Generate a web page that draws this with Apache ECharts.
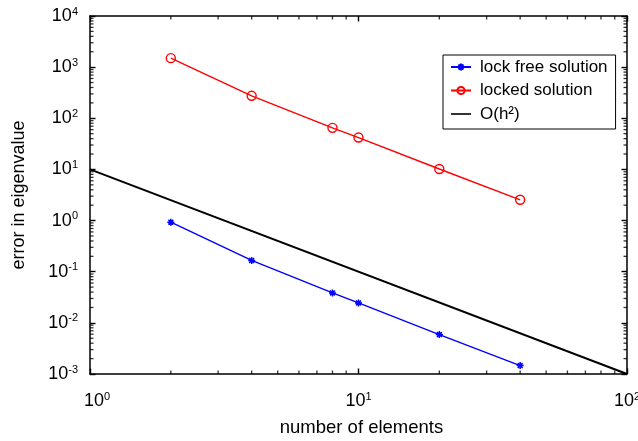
<!DOCTYPE html>
<html>
<head>
<meta charset="utf-8">
<script src="https://cdn.jsdelivr.net/npm/echarts@6/dist/echarts.min.js"></script>
<style>
html,body{margin:0;padding:0;background:#fff;}
#chart{width:638px;height:441px;}
</style>
</head>
<body>
<div id="chart"></div>
<script>
// ---- data ----
var elements = [2, 4, 8, 10, 20, 40];
var lockFree = [0.93, 0.166, 0.0385, 0.0245, 0.0059, 0.00146];
var locked = [1500, 275, 65, 42, 10.2, 2.55];
var refX = [1, 100];
var refY = [10, 0.001];
var seriesNames = ['lock free solution', 'locked solution', 'O(h\u00b2)'];
var xTitle = 'number of elements';
var yTitle = 'error in eigenvalue';
var xRange = [1, 100];
var yRange = [0.001, 10000];
var xMinorTicks = [2,3,4,5,6,7,8,9,20,30,40,50,60,70,80,90];
var yMinorTicks = [];
[0.001,0.01,0.1,1,10,100,1000].forEach(function(d){ for (var k=2;k<=9;k++) yMinorTicks.push(+(d*k).toPrecision(3)); });

var FONT = '"Liberation Sans", Arial, Helvetica, sans-serif';

function zip(a, b) { return a.map(function (v, i) { return [v, b[i]]; }); }
function expLabelY(v) {
  var e = Math.round(Math.log(v) / Math.LN10);
  return '{b|10}{s|' + e + '}';
}
function expLabelX(v) {
  var e = Math.round(Math.log(v) / Math.LN10);
  return (e === 0 ? '{p|}' : '') + '{b|10}{s|' + e + '}';
}
function makeRich() {
  return {
    b: { fontSize: 18, lineHeight: 20, verticalAlign: 'middle', fontFamily: FONT, color: '#000' },
    s: { fontSize: 11, lineHeight: 11, verticalAlign: 'top', fontFamily: FONT, color: '#000' },
    p: { width: 14, height: 10 }
  };
}
function mkLine() { return { show: true, onZero: false, lineStyle: { color: '#000', width: 1.5 } }; }
function mkTick() { return { show: true, inside: true, length: 5.5, lineStyle: { color: '#000', width: 1.4 } }; }

function tickSeries(data, offset, size) {
  return {
    type: 'scatter', silent: true, clip: false, legendHoverLink: false,
    xAxisIndex: 0, yAxisIndex: 0,
    data: data, symbol: 'rect', symbolSize: size, symbolOffset: offset,
    itemStyle: { color: '#000' }
  };
}

var chart = echarts.init(document.getElementById('chart'));

var option = {
  animation: false,
  textStyle: { fontFamily: FONT },
  grid: { left: 90, right: 11, top: 16, bottom: 67, outerBoundsMode: 'none', containLabel: false },
  legend: {
    data: [
      { name: seriesNames[0] },
      { name: seriesNames[1] },
      { name: seriesNames[2], icon: 'path://M0,0L20,0L20,1.6L0,1.6Z', itemStyle: { color: '#000' } }
    ],
    orient: 'vertical',
    left: 443, top: 55,
    padding: [2, 8, 5, 7],
    itemGap: 3.5,
    itemWidth: 20, itemHeight: 9,
    backgroundColor: '#fff',
    borderColor: '#000', borderWidth: 1, borderRadius: 0,
    textStyle: { fontSize: 17, lineHeight: 20, fontFamily: FONT, color: '#000', padding: [0, 0, 0, 4] }
  },
  xAxis: [
    {
      type: 'log', logBase: 10, min: xRange[0], max: xRange[1],
      position: 'bottom',
      name: xTitle, nameLocation: 'middle', nameGap: 44.5,
      nameTextStyle: { fontSize: 18.5, fontFamily: FONT, color: '#000', padding: [0, 0, 0, 6] },
      axisLine: mkLine(), axisTick: mkTick(),
      axisLabel: { margin: 27, verticalAlign: 'middle', formatter: expLabelX, rich: makeRich() },
      splitLine: { show: false }
    },
    {
      type: 'log', logBase: 10, min: xRange[0], max: xRange[1],
      position: 'top',
      axisLine: mkLine(), axisTick: mkTick(),
      axisLabel: { show: false }, splitLine: { show: false }
    }
  ],
  yAxis: [
    {
      type: 'log', logBase: 10, min: yRange[0], max: yRange[1],
      position: 'left',
      name: yTitle, nameLocation: 'middle', nameGap: 62,
      nameTextStyle: { fontSize: 18, fontFamily: FONT, color: '#000' },
      axisLine: mkLine(), axisTick: mkTick(),
      axisLabel: { margin: 12, formatter: expLabelY, rich: makeRich() },
      splitLine: { show: false }
    },
    {
      type: 'log', logBase: 10, min: yRange[0], max: yRange[1],
      position: 'right',
      axisLine: mkLine(), axisTick: mkTick(),
      axisLabel: { show: false }, splitLine: { show: false }
    }
  ],
  series: [
    {
      name: seriesNames[0], type: 'line', data: zip(elements, lockFree),
      xAxisIndex: 0, yAxisIndex: 0,
      lineStyle: { color: '#0000ff', width: 1.4 },
      symbol: 'path://M0,-1L0,1M-1,0L1,0M-0.7,-0.7L0.7,0.7M-0.7,0.7L0.7,-0.7',
      symbolSize: 7,
      itemStyle: { color: '#0000ff', borderColor: '#0000ff', borderWidth: 1.5 },
      z: 3
    },
    {
      name: seriesNames[1], type: 'line', data: zip(elements, locked),
      xAxisIndex: 0, yAxisIndex: 0,
      lineStyle: { color: '#ff0000', width: 1.4 },
      symbol: 'circle', symbolSize: 9,
      itemStyle: { color: 'rgba(255,255,255,0)', borderColor: '#ff0000', borderWidth: 1.4 },
      z: 3
    },
    {
      name: seriesNames[2], type: 'line', data: zip(refX, refY),
      xAxisIndex: 0, yAxisIndex: 0,
      lineStyle: { color: '#000', width: 2 },
      symbol: 'none', showSymbol: false,
      itemStyle: { color: '#000' },
      z: 2
    },
    tickSeries(xMinorTicks.map(function (v) { return [v, yRange[0]]; }), [0, -1.75], [1.3, 3.5]),
    tickSeries(xMinorTicks.map(function (v) { return [v, yRange[1]]; }), [0, 1.75], [1.3, 3.5]),
    tickSeries(yMinorTicks.map(function (v) { return [xRange[0], v]; }), [1.75, 0], [3.5, 1.3]),
    tickSeries(yMinorTicks.map(function (v) { return [xRange[1], v]; }), [-1.75, 0], [3.5, 1.3])
  ]
};
chart.setOption(option);
</script>
</body>
</html>
